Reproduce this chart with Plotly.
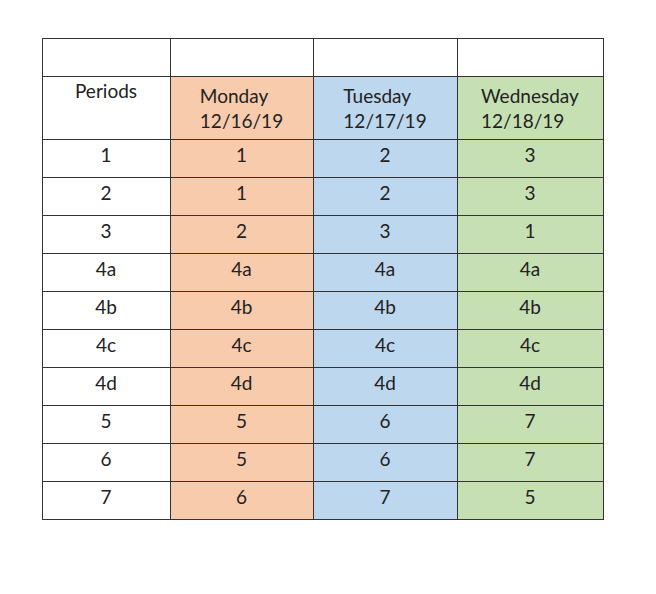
import plotly.graph_objects as go

periods = ["Periods", "1", "2", "3", "4a", "4b", "4c", "4d", "5", "6", "7"]
monday = ["Monday<br>12/16/19", "1", "1", "2", "4a", "4b", "4c", "4d", "5", "5", "6"]
tuesday = ["Tuesday<br>12/17/19", "2", "2", "3", "4a", "4b", "4c", "4d", "6", "6", "7"]
wednesday = ["Wednesday<br>12/18/19", "3", "3", "1", "4a", "4b", "4c", "4d", "7", "7", "5"]

colors = ["#FFFFFF", "#F8CBAD", "#BDD7EE", "#C6E0B4"]

fig = go.Figure(go.Table(
    domain=dict(x=[34/656, 595/656], y=[0, 1-30/594]),
    columnwidth=[128, 143, 144, 146],
    header=dict(values=["", "", "", ""], height=38, fill_color="white",
                line=dict(color="#333333", width=1)),
    cells=dict(values=[periods, monday, tuesday, wednesday],
               height=38, align="center",
               fill_color=colors,
               line=dict(color="#333333", width=1),
               font=dict(family="Lato, Open Sans, sans-serif", size=19, color="#222222")),
))
fig.update_layout(width=656, height=594, margin=dict(l=0, r=0, t=0, b=0),
                  paper_bgcolor="white")
fig.write_html("out.html")
